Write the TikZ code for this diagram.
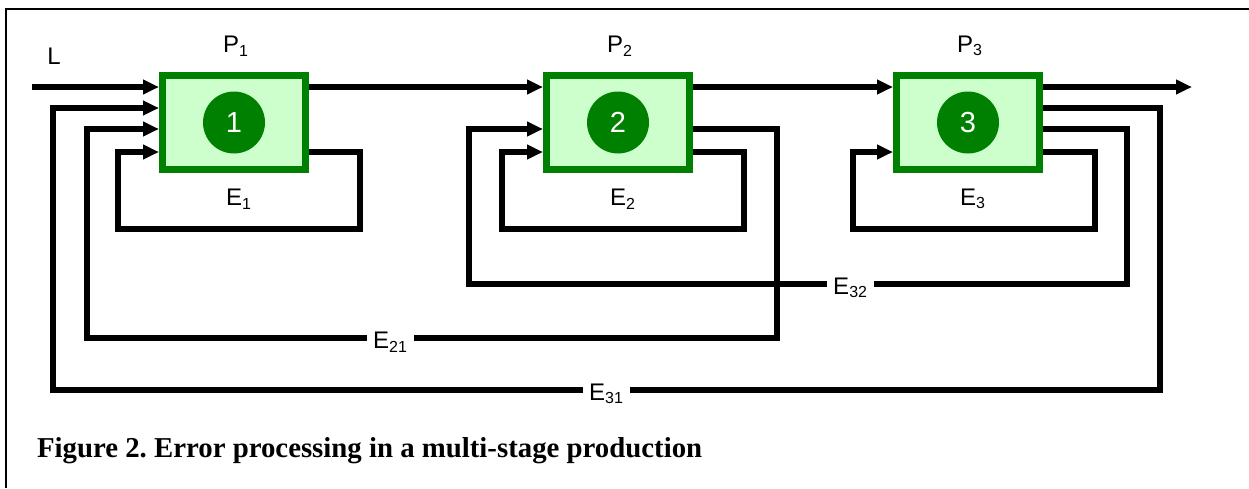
\documentclass[tikz,border=0pt]{standalone}
\usepackage{fontspec}
\setmainfont{Liberation Sans}
\newfontfamily\capfont{Liberation Serif}
\usepackage{xcolor}
\usepackage{tikz}
\usetikzlibrary{arrows.meta,calc}
\definecolor{boxgreen}{RGB}{0,128,0}
\definecolor{boxfill}{RGB}{204,255,204}
\frenchspacing
\begin{document}
\begin{tikzpicture}[x=0.5pt,y=-0.5pt,font=\fontsize{12}{14}\selectfont,>={Triangle[length=8pt,width=7pt]}]
\tikzstyle{stage}=[draw=boxgreen,fill=boxfill,line width=3.5pt,minimum width=71.5pt,minimum height=47pt,inner sep=0pt]
\tikzstyle{num}=[circle,fill=boxgreen,text=white,minimum size=31pt,inner sep=0pt,font=\fontsize{14.5}{16}\selectfont]
\tikzstyle{conn}=[line width=2.6pt]
\tikzstyle{lbl}=[fill=white,inner sep=3pt,yshift=-2pt]
\useasboundingbox (0,0) rectangle (1249,488);
\draw[line width=0.9pt] (6,488) -- (6,9) -- (1249,9);
% rows of the ports
\coordinate (r1) at (0,87);
\coordinate (r2) at (0,108);
\coordinate (r3) at (0,129);
\coordinate (r4) at (0,152);
% stages
\node[stage] (b1) at (234,122.5) {};
\node[stage] (b2) at (618,122.5) {};
\node[stage] (b3) at (968,122.5) {};
\node[num] (c1) at (b1) {1};
\node[num] (c2) at (b2) {2};
\node[num] (c3) at (b3) {3};
\node (p1) at (236,46) {P\textsubscript{1}};
\node (p2) at (620,46) {P\textsubscript{2}};
\node (p3) at (970,46) {P\textsubscript{3}};
\node (l) at (54,56) {L};
\coordinate (lin) at (32,87);
\coordinate (out) at (1192,87);
% main flow
\draw[conn,->] (lin) -- (b1.west |- r1);
\draw[conn,->] (b1.east |- r1) -- (b2.west |- r1);
\draw[conn,->] (b2.east |- r1) -- (b3.west |- r1);
\draw[conn,->] (b3.east |- r1) -- (out);
% local loops
\draw[conn,->] (b1.east |- r4) -- (360,152) -- (360,229) -- (118,229) -- (118,152) -- (b1.west |- r4);
\draw[conn,->] (b2.east |- r4) -- (744,152) -- (744,229) -- (502,229) -- (502,152) -- (b2.west |- r4);
\draw[conn,->] (b3.east |- r4) -- (1095,152) -- (1095,229) -- (853,229) -- (853,152) -- (b3.west |- r4);
\node (e1) at (239,199) {E\textsubscript{1}};
\node (e2) at (623,199) {E\textsubscript{2}};
\node (e3) at (973,199) {E\textsubscript{3}};
% loops back to earlier stages
\draw[conn,->] (b3.east |- r3) -- (1127,129) -- (1127,284) -- node[lbl,pos=0.42] {E\textsubscript{32}} (469,284) -- (469,129) -- (b2.west |- r3);
\draw[conn,->] (b2.east |- r3) -- (777,129) -- (777,338) -- node[lbl,pos=0.56] {E\textsubscript{21}} (87,338) -- (87,129) -- (b1.west |- r3);
\draw[conn,->] (b3.east |- r2) -- (1160,108) -- (1160,390) -- node[lbl,pos=0.5] {E\textsubscript{31}} (53,390) -- (53,108) -- (b1.west |- r2);
\node[anchor=base west,font=\capfont\bfseries\fontsize{14.4}{16}\selectfont] (cap) at (30,457) {Figure 2. Error processing in a multi-stage production};
\end{tikzpicture}
\end{document}
